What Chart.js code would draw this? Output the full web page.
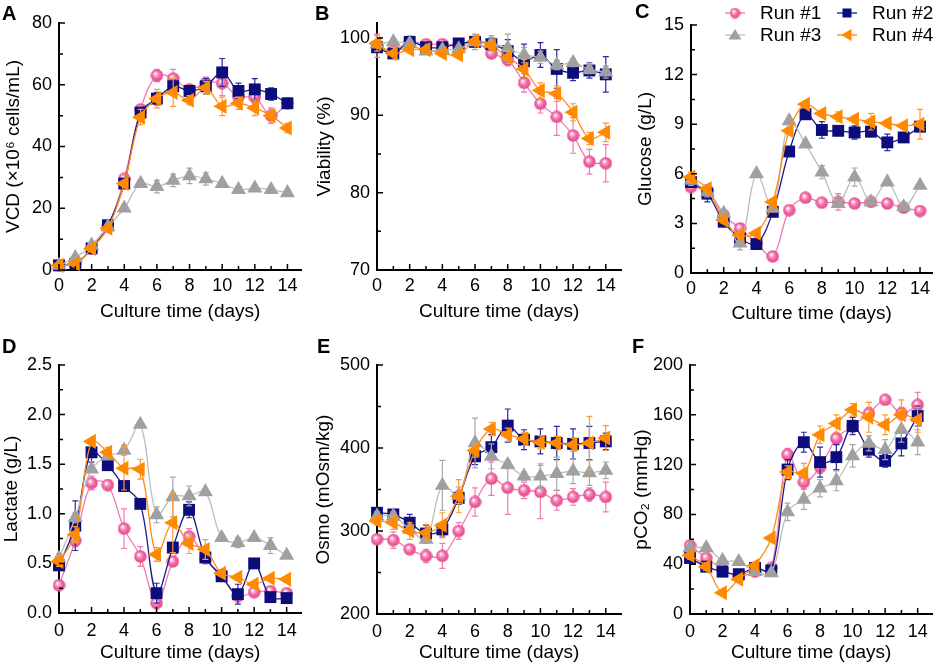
<!DOCTYPE html>
<html>
<head>
<meta charset="utf-8">
<title>Culture runs</title>
<script src="https://cdn.jsdelivr.net/npm/chart.js@4.4.1/dist/chart.umd.min.js"></script>
<style>
body { margin:0; background:#fff; }
#wrap { position:relative; width:941px; height:667px; overflow:hidden; background:#fff; }
#wrap canvas { position:absolute; }
</style>
</head>
<body>
<div id="wrap">
<canvas id="cA" width="310" height="330" style="left:0px;top:0px"></canvas>
<canvas id="cB" width="318" height="330" style="left:312px;top:0px"></canvas>
<canvas id="cC" width="317" height="330" style="left:624px;top:0px"></canvas>
<canvas id="cD" width="310" height="337" style="left:0px;top:330px"></canvas>
<canvas id="cE" width="318" height="337" style="left:312px;top:330px"></canvas>
<canvas id="cF" width="317" height="337" style="left:624px;top:330px"></canvas>
</div>
<script>
// # ===============================
// # = Data
// # ===============================
var days = [0,1,2,3,4,5,6,7,8,9,10,11,12,13,14];
var xTicks = [0,2,4,6,8,10,12,14];
var xMinor = [1,3,5,7,9,11,13];
var runNames = ['Run #1','Run #2','Run #3','Run #4'];

// VCD
var vcd1 = [1.5, 2.0, 7.0, 14.0, 29.5, 52.0, 63.0, 62.0, 58.5, 60.5, 60.5, 56.0, 56.0, 50.0, 54.0];
var vcd2 = [1.5, 2.0, 7.0, 14.5, 28.0, 51.0, 55.5, 59.5, 58.0, 59.5, 64.0, 58.0, 58.5, 57.0, 54.0];
var vcd3 = [1.5, 4.0, 8.0, 14.0, 20.0, 28.0, 27.0, 29.0, 30.5, 29.5, 28.0, 26.0, 26.5, 26.0, 25.0];
var vcd4 = [1.5, 2.0, 7.0, 13.5, 28.0, 49.5, 55.5, 57.5, 55.0, 59.0, 53.0, 54.0, 52.5, 50.0, 46.0];
var vcdErr1 = [0.5,0.5,0.8,1,1,1.5,2,3,1.5,2,4,2,2,2.5,1.5];
var vcdErr2 = [0.5,0.5,0.8,1,1,1.5,2,2,1.5,2.5,4.5,2.5,3.5,2,1.5];
var vcdErr3 = [0.3,0.5,0.8,1,1,1,2,2,2.5,2,1,1,1,1,1];
var vcdErr4 = [0.5,0.5,0.8,1,1,2.5,3,4.5,1.5,2,3,2,2.5,2,1.5];
var vcdTicks = [0,20,40,60,80];
var vcdMinor = [10,30,50,70];

// Viability
var via1 = [99.0, 98.3, 99.5, 99.2, 99.2, 99.0, 99.5, 98.0, 97.2, 94.2, 91.5, 89.8, 87.4, 84.0, 83.8];
var via2 = [98.8, 98.0, 99.5, 98.8, 98.8, 99.3, 99.5, 99.2, 98.3, 97.0, 97.8, 96.0, 95.5, 95.8, 95.3];
var via3 = [99.2, 99.5, 99.3, 98.3, 98.5, 98.6, 99.5, 99.3, 98.7, 97.8, 97.5, 96.5, 96.8, 95.9, 95.6];
var via4 = [99.3, 98.0, 98.5, 98.5, 98.0, 97.8, 99.6, 99.0, 97.5, 96.0, 93.2, 92.8, 90.4, 87.0, 87.8];
var viaErr1 = [1.5,1,0.4,0.4,0.4,0.4,0.5,0.5,0.8,1.2,1.2,2.4,2.3,1.6,2.4];
var viaErr2 = [0.6,0.6,0.4,0.4,0.4,0.4,0.5,0.8,1.5,2.2,1.6,2.5,1,1,2.3];
var viaErr3 = [0.4,0.4,0.4,0.4,0.4,0.4,1,1,1.8,1,0.8,0.6,0.5,0.5,0.8];
var viaErr4 = [1,0.8,0.4,0.4,0.4,0.4,0.5,0.5,0.8,1.2,1,1,1.1,0.8,1.2];
var viaTicks = [70,80,90,100];
var viaMinor = [75,85,95];

// Glucose
var glc1 = [5.2, 5.0, 3.5, 2.7, 1.8, 1.0, 3.8, 4.55, 4.25, 4.3, 4.2, 4.3, 4.2, 3.95, 3.75];
var glc2 = [5.5, 4.8, 3.1, 2.1, 1.75, 3.7, 7.35, 9.6, 8.65, 8.6, 8.5, 8.55, 7.9, 8.2, 8.85];
var glc3 = [5.6, 4.9, 3.6, 1.8, 6.0, 3.9, 9.2, 7.8, 6.1, 4.2, 5.8, 4.3, 5.5, 4.0, 5.3];
var glc4 = [5.8, 5.1, 3.2, 2.3, 2.4, 4.3, 8.6, 10.2, 9.65, 9.45, 9.3, 9.15, 9.05, 8.9, 9.0];
var glcErr1 = [0.2,0.2,0.2,0.2,0.1,0.1,0.1,0.1,0.2,0.5,0.1,0.2,0.1,0.1,0.1];
var glcErr2 = [0.3,0.5,0.2,0.2,0.1,0.2,0.2,0.3,0.5,0.2,0.4,0.3,0.5,0.2,0.3];
var glcErr3 = [0.3,0.3,0.2,0.4,0.1,0.1,0.2,0.1,0.4,0.2,0.55,0.1,0.1,0.1,0.1];
var glcErr4 = [0.3,0.2,0.2,0.2,0.1,0.1,0.2,0.1,0.1,0.3,0.2,0.5,0.2,0.2,0.9];
var glcTicks = [0,3,6,9,12,15];
var glcMinor = [1.5,4.5,7.5,10.5,13.5];

// Lactate
var lac1 = [0.28, 0.73, 1.31, 1.29, 0.85, 0.57, 0.10, 0.52, 0.77, 0.55, 0.38, 0.17, 0.21, 0.22, 0.20];
var lac2 = [0.48, 0.88, 1.62, 1.49, 1.28, 1.10, 0.20, 0.66, 1.04, 0.56, 0.37, 0.19, 0.50, 0.16, 0.15];
var lac3 = [0.55, 0.96, 1.45, 1.58, 1.64, 1.90, 0.99, 1.17, 1.18, 1.22, 0.76, 0.71, 0.76, 0.68, 0.58];
var lac4 = [0.52, 0.79, 1.73, 1.62, 1.46, 1.45, 0.59, 0.91, 0.70, 0.64, 0.40, 0.36, 0.29, 0.35, 0.34];
var lacErr1 = [0.02,0.06,0.07,0.05,0.2,0.1,0.04,0.03,0.08,0.03,0.02,0.03,0.02,0.02,0.02];
var lacErr2 = [0.05,0.25,0.1,0.03,0.03,0.03,0.1,0.03,0.08,0.04,0.03,0.1,0.02,0.02,0.02];
var lacErr3 = [0.05,0.05,0.03,0.03,0.05,0.02,0.08,0.2,0.1,0.03,0.03,0.05,0.03,0.08,0.02];
var lacErr4 = [0.05,0.08,0.03,0.05,0.22,0.1,0.07,0.3,0.1,0.1,0.03,0.03,0.02,0.02,0.02];
var lacTicks = [0,0.5,1.0,1.5,2.0,2.5];
var lacMinor = [0.25,0.75,1.25,1.75,2.25];

// Osmolality
var osm1 = [290, 289, 278, 270, 270, 300, 335, 363, 352, 349, 347, 337, 341, 344, 341];
var osm2 = [322, 320, 310, 297, 302, 340, 390, 401, 427, 410, 408, 406, 405, 406, 408];
var osm3 = [318, 318, 302, 290, 355, 343, 406, 390, 380, 366, 366, 369, 372, 370, 373];
var osm4 = [312, 310, 300, 298, 307, 342, 397, 423, 416, 411, 407, 406, 404, 406, 412];
var osmErr1 = [5,10,5,8,15,10,17,20,32,10,32,12,10,8,18];
var osmErr2 = [5,5,10,10,8,8,10,15,20,12,15,20,18,20,10];
var osmErr3 = [5,5,5,5,30,10,30,15,5,5,15,20,15,15,10];
var osmErr4 = [5,8,10,10,15,20,8,8,8,8,8,8,8,32,15];
var osmTicks = [200,300,400,500];
var osmMinor = [250,350,450];

// pCO2
var co1 = [55, 45, 36, 30, 34, 37, 128, 106, 118, 141, 151, 161, 172, 161, 168];
var co2 = [45, 38, 34, 32, 37, 35, 116, 138, 122, 126, 151, 132, 123, 137, 159];
var co3 = [53, 53, 43, 42, 34, 33, 82, 92, 101, 107, 127, 137, 132, 148, 138];
var co4 = [47, 38, 17, 28, 39, 61, 114, 113, 144, 153, 164, 158, 152, 160, 156];
var coErr1 = [3,3,2,2,2,2,5,5,5,5,5,5,3,5,10];
var coErr2 = [3,3,2,2,2,2,8,8,12,10,7,6,5,10,8];
var coErr3 = [3,3,2,2,2,2,7,8,7,8,9,6,8,10,10];
var coErr4 = [3,3,2,2,2,2,5,8,7,7,5,12,8,12,10];
var coTicks = [0,40,80,120,160,200];
var coMinor = [20,60,100,140,180];

// # ===============================
// # = Styles
// # ===============================
var FONT = "'Liberation Sans', Arial, Helvetica, sans-serif";
Chart.defaults.font.family = FONT;
Chart.defaults.color = '#000';

var lineColors = ['#F27AB0', '#1A1A8C', '#BDBDBD', '#FF8C1A'];
var fillColors = ['#F0609E', '#0C0C7C', '#A0A0A0', '#FF8A00'];
var errColors = ['#F27AB0', '#2A2AA0', '#A8A8A8', '#FF9A30'];

function sphere(d) {
	var c = document.createElement('canvas');
	c.width = d; c.height = d;
	var g = c.getContext('2d');
	var r = d / 2;
	var grad = g.createRadialGradient(r * 0.75, r * 0.7, 0.5, r, r, r);
	grad.addColorStop(0, '#ffffff');
	grad.addColorStop(0.25, '#F9A5CB');
	grad.addColorStop(0.6, '#F0609E');
	grad.addColorStop(1, '#E04C8C');
	g.fillStyle = grad;
	g.beginPath();
	g.arc(r, r, r - 0.3, 0, Math.PI * 2);
	g.fill();
	return c;
}
var pinkBall = sphere(13);
var pinkBallSmall = sphere(11);

var pointStyles = [pinkBall, 'rect', 'triangle', 'triangle'];
var pointRot = [0, 0, 0, 270];
var pointRad = [6.5, 8.4, 8.7, 8.7];

// error bars, drawn just before each dataset
var errorBars = {
	id: 'errorBars',
	beforeDatasetDraw: function(chart, args) {
		var ds = chart.data.datasets[args.index];
		if (!ds.err) return;
		var ys = chart.scales.y, ctx = chart.ctx;
		ctx.save();
		ctx.strokeStyle = ds.errColor;
		ctx.lineWidth = 1.2;
		ctx.beginPath();
		args.meta.data.forEach(function(pt, k) {
			var e = ds.err[k];
			if (!e) return;
			var v = ds.data[k].y;
			var t = ys.getPixelForValue(v + e), b = ys.getPixelForValue(v - e);
			ctx.moveTo(pt.x, t); ctx.lineTo(pt.x, b);
			ctx.moveTo(pt.x - 3, t); ctx.lineTo(pt.x + 3, t);
			ctx.moveTo(pt.x - 3, b); ctx.lineTo(pt.x + 3, b);
		});
		ctx.stroke();
		ctx.restore();
	}
};

// inward ticks + panel letter
var frame = {
	id: 'frame',
	afterDraw: function(chart, args, opts) {
		var ctx = chart.ctx, xs = chart.scales.x, ys = chart.scales.y, a = chart.chartArea;
		ctx.save();
		ctx.strokeStyle = '#000';
		ctx.lineWidth = 1.5;
		ctx.beginPath();
		xTicks.forEach(function(v) { var p = xs.getPixelForValue(v); ctx.moveTo(p, a.bottom); ctx.lineTo(p, a.bottom - 6); });
		xMinor.forEach(function(v) { var p = xs.getPixelForValue(v); ctx.moveTo(p, a.bottom); ctx.lineTo(p, a.bottom - 4); });
		opts.yTicks.forEach(function(v) { var p = ys.getPixelForValue(v); ctx.moveTo(a.left, p); ctx.lineTo(a.left + 6, p); });
		opts.yMinor.forEach(function(v) { var p = ys.getPixelForValue(v); ctx.moveTo(a.left, p); ctx.lineTo(a.left + 4, p); });
		ctx.stroke();
		ctx.fillStyle = '#000';
		ctx.font = 'bold 20px ' + FONT;
		ctx.textBaseline = 'alphabetic';
		ctx.fillText(opts.letter, opts.lx, opts.ly);
		ctx.restore();
	}
};

// legend for panel C
var legendC = {
	id: 'legendC',
	afterDraw: function(chart, args, opts) {
		if (!opts.show) return;
		var ctx = chart.ctx;
		var spots = [[111, 13], [223, 13], [111, 35], [223, 35]];
		ctx.save();
		ctx.font = '19px ' + FONT;
		ctx.textBaseline = 'middle';
		ctx.fillStyle = '#000';
		for (var i = 0; i < 4; i++) {
			var x = spots[i][0], y = spots[i][1];
			ctx.strokeStyle = lineColors[i];
			ctx.lineWidth = 1.3;
			ctx.beginPath(); ctx.moveTo(x - 10, y); ctx.lineTo(x + 10, y); ctx.stroke();
			ctx.fillStyle = fillColors[i];
			ctx.beginPath();
			if (i == 0) {
				ctx.drawImage(pinkBallSmall, x - 5.5, y - 5.5);
			} else if (i == 1) {
				ctx.fillRect(x - 4.5, y - 4.5, 9, 9);
			} else if (i == 2) {
				ctx.moveTo(x, y - 6); ctx.lineTo(x + 6.5, y + 4.5); ctx.lineTo(x - 6.5, y + 4.5); ctx.fill();
			} else {
				ctx.moveTo(x - 6, y); ctx.lineTo(x + 4.5, y - 6); ctx.lineTo(x + 4.5, y + 6); ctx.fill();
			}
			ctx.fillStyle = '#000';
			ctx.fillText(runNames[i], x + 25, y + 1);
		}
		ctx.restore();
	}
};

function makeChart(id, p) {
	var datasets = [];
	for (var i = 0; i < 4; i++) {
		datasets.push({
			label: runNames[i],
			data: days.map(function(d, k) { return {x: d, y: p.values[i][k]}; }),
			err: p.errors[i],
			errColor: errColors[i],
			borderColor: lineColors[i],
			borderWidth: 1.3,
			backgroundColor: fillColors[i],
			pointStyle: pointStyles[i],
			pointRotation: pointRot[i],
			pointRadius: pointRad[i],
			pointBackgroundColor: fillColors[i],
			pointBorderWidth: 0,
			tension: 0.35,
			fill: false,
			clip: false,
			order: 3 - i
		});
	}
	return new Chart(document.getElementById(id), {
		type: 'line',
		data: { datasets: datasets },
		plugins: [errorBars, frame, legendC],
		options: {
			responsive: false,
			animation: false,
			events: [],
			layout: { padding: { top: p.padTop, right: p.padRight, left: 0, bottom: 0 } },
			plugins: {
				legend: { display: false },
				tooltip: { enabled: false },
				frame: { letter: p.letter, lx: p.lx, ly: p.ly, yTicks: p.yTicks, yMinor: p.yMinor },
				legendC: { show: !!p.legend }
			},
			scales: {
				x: {
					type: 'linear', min: 0, max: p.xMax,
					afterBuildTicks: function(s) { s.ticks = xTicks.map(function(v) { return {value: v}; }); },
					afterFit: function(s) { s.height = p.xH; },
					grid: { display: false, drawTicks: false },
					border: { display: true, color: '#000', width: 2 },
					ticks: { font: { size: 18 }, color: '#000', padding: p.xTickPad, maxRotation: 0, autoSkip: false },
					title: { display: true, text: 'Culture time (days)', font: { size: 19 }, color: '#000', padding: { top: 0, bottom: p.xTitlePad } }
				},
				y: {
					type: 'linear', min: p.yMin, max: p.yMax,
					afterBuildTicks: function(s) { s.ticks = p.yTicks.map(function(v) { return {value: v}; }); },
					afterFit: function(s) { s.width = p.yW; },
					grid: { display: false, drawTicks: false },
					border: { display: true, color: '#000', width: 2 },
					ticks: { font: { size: 18 }, color: '#000', padding: 7, callback: p.fmt || function(v) { return v; } },
					title: { display: true, text: p.yTitle, font: { size: 19 }, color: '#000', padding: { top: p.yTitlePad, bottom: 0 } }
				}
			}
		}
	});
}

// # ===============================
// # = Panels
// # ===============================
makeChart('cA', {
	letter: 'A', lx: 2, ly: 20,
	values: [vcd1, vcd2, vcd3, vcd4], errors: [vcdErr1, vcdErr2, vcdErr3, vcdErr4],
	yMin: 0, yMax: 80, yTicks: vcdTicks, yMinor: vcdMinor,
	yTitle: 'VCD (\u00d710\u2076 cells/mL)', yTitlePad: 2,
	yW: 59, padTop: 23, padRight: 5, xH: 60, xMax: 14.85, xTitlePad: 7, xTickPad: 5
});
makeChart('cB', {
	letter: 'B', lx: 3, ly: 20,
	values: [via1, via2, via3, via4], errors: [viaErr1, viaErr2, viaErr3, viaErr4],
	yMin: 70, yMax: 101.94, yTicks: viaTicks, yMinor: viaMinor,
	yTitle: 'Viability (%)', yTitlePad: 1,
	yW: 65, padTop: 23, padRight: 5, xH: 60, xMax: 14.95, xTitlePad: 7, xTickPad: 5
});
makeChart('cC', {
	letter: 'C', lx: 11, ly: 18, legend: true,
	values: [glc1, glc2, glc3, glc4], errors: [glcErr1, glcErr2, glcErr3, glcErr4],
	yMin: 0, yMax: 15, yTicks: glcTicks, yMinor: glcMinor,
	yTitle: 'Glucose (g/L)', yTitlePad: 10,
	yW: 67, padTop: 25, padRight: 7, xH: 57, xMax: 14.75, xTitlePad: 5, xTickPad: 5
});
makeChart('cD', {
	letter: 'D', lx: 2, ly: 23,
	values: [lac1, lac2, lac3, lac4], errors: [lacErr1, lacErr2, lacErr3, lacErr4],
	yMin: 0, yMax: 2.5, yTicks: lacTicks, yMinor: lacMinor,
	yTitle: 'Lactate (g/L)', yTitlePad: 0.5,
	yW: 59, padTop: 35, padRight: 2, xH: 54, xMax: 14.9, xTitlePad: 3, xTickPad: 7,
	fmt: function(v) { return v.toFixed(1); }
});
makeChart('cE', {
	letter: 'E', lx: 5, ly: 23,
	values: [osm1, osm2, osm3, osm4], errors: [osmErr1, osmErr2, osmErr3, osmErr4],
	yMin: 200, yMax: 500, yTicks: osmTicks, yMinor: osmMinor,
	yTitle: 'Osmo (mOsm/kg)', yTitlePad: 0.5,
	yW: 65, padTop: 35, padRight: 5, xH: 53, xMax: 14.95, xTitlePad: 3, xTickPad: 7
});
makeChart('cF', {
	letter: 'F', lx: 8, ly: 23,
	values: [co1, co2, co3, co4], errors: [coErr1, coErr2, coErr3, coErr4],
	yMin: 0, yMax: 200, yTicks: coTicks, yMinor: coMinor,
	yTitle: 'pCO\u2082 (mmHg)', yTitlePad: 6,
	yW: 66, padTop: 35, padRight: 3, xH: 53, xMax: 14.9, xTitlePad: 3, xTickPad: 7
});
</script>
</body>
</html>
